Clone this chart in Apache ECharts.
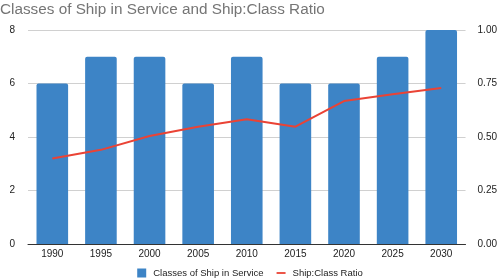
<!DOCTYPE html>
<html><head><meta charset="utf-8">
<script src="https://cdn.jsdelivr.net/npm/echarts@6/dist/echarts.min.js"></script>
<style>html,body{margin:0;padding:0;background:#fff}#c{width:500px;height:278px}</style>
</head><body><div id="c"></div>
<script>
const categories = ['1990','1995','2000','2005','2010','2015','2020','2025','2030'];
const classesInService = [6,7,7,6,7,6,6,7,8];
const shipClassRatio = [0.40,0.44,0.505,0.548,0.583,0.548,0.668,0.70,0.729];
const leftTicks = [0,2,4,6,8];
const rightTicks = ['0.00','0.25','0.50','0.75','1.00'];
const FONT = '"Liberation Sans", Arial, sans-serif';
const chart = echarts.init(document.getElementById('c'), null, {renderer:'canvas'});
chart.setOption({
  animation:false,
  textStyle:{fontFamily:FONT},
  title:{text:'Classes of Ship in Service and Ship:Class Ratio',left:-5,top:-3,
    textStyle:{fontFamily:FONT,fontSize:15.3,fontWeight:'normal',color:'#757575'}},
  legend:{top:263,left:'center',itemGap:13,itemWidth:9,itemHeight:9,
    textStyle:{fontFamily:FONT,fontSize:9.5,color:'#222',padding:[0,0,0,2]},
    data:[{name:'Classes of Ship in Service',icon:'rect'},
          {name:'Ship:Class Ratio',icon:'path://M0,4 L10,4 L10,6 L0,6 Z',itemStyle:{color:'#ea4335'}}]},
  grid:{left:28,right:27,top:30,bottom:34,containLabel:false},
  xAxis:{type:'category',data:categories,
    axisLine:{lineStyle:{color:'#333',width:1}},axisTick:{show:false},
    axisLabel:{fontFamily:FONT,fontSize:10,color:'#222',margin:5}},
  yAxis:[{type:'value',min:0,max:8,interval:2,
    axisLabel:{fontFamily:FONT,fontSize:10,color:'#222',margin:13},
    axisLine:{show:false},axisTick:{show:false},
    splitLine:{lineStyle:{color:'#d0d0d0'}}},
   {type:'value',min:0,max:1,interval:0.25,
    axisLabel:{fontFamily:FONT,fontSize:10,color:'#222',margin:12,
      formatter:(v,i)=>rightTicks[Math.round(v/0.25)]},
    axisLine:{show:false},axisTick:{show:false},splitLine:{show:false}}],
  series:[{name:'Classes of Ship in Service',type:'bar',data:classesInService,
     barCategoryGap:'35%',
     itemStyle:{color:'#3d84c6',borderRadius:[2,2,0,0]}},
    {name:'Ship:Class Ratio',type:'line',yAxisIndex:1,data:shipClassRatio,
     symbol:'none',lineStyle:{color:'#ea4335',width:2},itemStyle:{color:'#ea4335'}}]
});
</script></body></html>
